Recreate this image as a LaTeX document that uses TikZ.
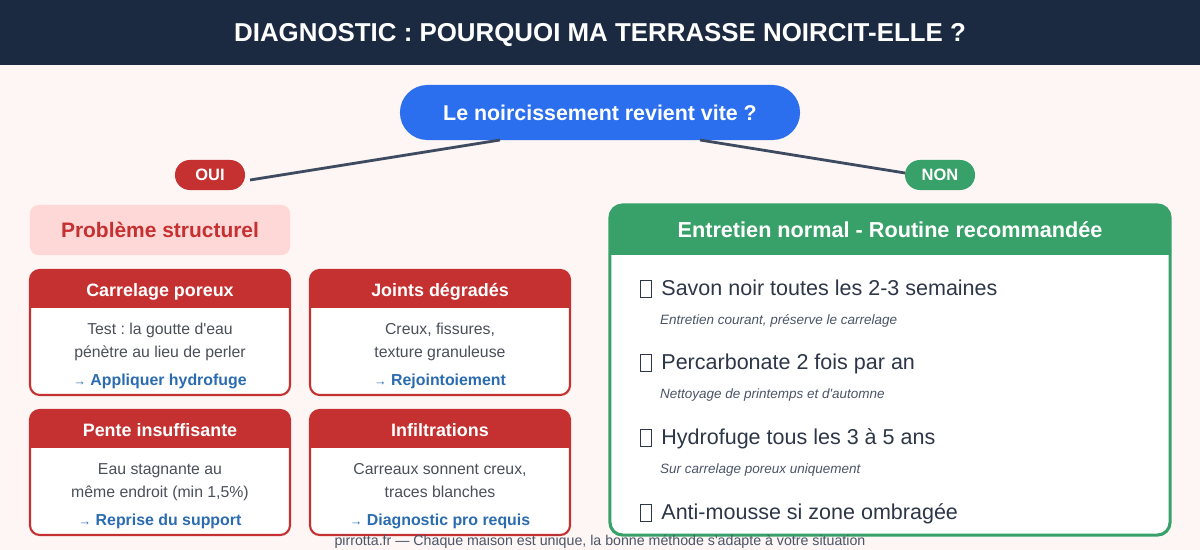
\documentclass[tikz,border=0pt]{standalone}
\usepackage{fontspec}
\setmainfont{Liberation Sans}
\usetikzlibrary{calc}
\frenchspacing

\definecolor{nuit}{HTML}{1B2A41}
\definecolor{fond}{HTML}{FDF6F5}
\definecolor{bleu}{HTML}{2B6FEE}
\definecolor{rouge}{HTML}{C53030}
\definecolor{rose}{HTML}{FED7D7}
\definecolor{vert}{HTML}{38A169}
\definecolor{trait}{HTML}{3D4A5F}
\definecolor{lien}{HTML}{2B6CB0}
\definecolor{gris}{HTML}{4A4F58}
\definecolor{sombre}{HTML}{2D3748}
\definecolor{pale}{HTML}{4A5568}

\newcommand{\fs}[1]{\fontsize{#1}{1.2\dimexpr#1pt\relax}\selectfont}
\newcommand{\tofu}{\raisebox{-0.05em}{\fboxsep=0pt\fboxrule=0.5pt\fbox{\rule{0pt}{0.74em}\hspace{0.48em}}}}
\newcommand{\apos}{\textquotesingle}

\tikzset{every node/.style={inner sep=0pt, outer sep=0pt},
  titre/.style={text=white, font=\bfseries\fs{18.4}},
  question/.style={fill=bleu, rounded corners=19.5pt, minimum width=10cm, minimum height=1.375cm, text=white, font=\bfseries\fs{15.2}},
  pastille/.style={rounded corners=10.6pt, minimum width=1.75cm, minimum height=0.75cm, text=white, font=\bfseries\fs{11.7}},
  lien/.style={trait, line width=2pt},
  bandeau/.style={fill=rose, rounded corners=6pt, minimum width=6.5cm, minimum height=1.25cm, text=rouge, font=\bfseries\fs{14.9}},
  cadre/.style={fill=white, draw=rouge, line width=1.5pt, rounded corners=7pt, minimum width=6.5cm, minimum height=3.125cm},
  cartetitre/.style={text=white, font=\bfseries\fs{12.75}},
  cartetexte/.style={text=gris, font=\fs{11.25}},
  carteaction/.style={text=lien, font=\bfseries\fs{11.3}},
  routine/.style={fill=white, draw=vert, line width=2.2pt, rounded corners=9pt, minimum width=14cm, minimum height=8.25cm},
  geste/.style={text=sombre, font=\fs{15.3}, anchor=base west},
  detail/.style={text=pale, font=\itshape\fs{9.6}, anchor=base west},
  pied/.style={text=pale, font=\fs{10.1}}
}

% carte : nom, centre, titre, ligne 1, ligne 2, action
\newcommand{\carte}[6]{
  \node[cadre] (#1) at (#2) {};
  \begin{scope}
    \clip[rounded corners=7pt] (#1.south west) rectangle (#1.north east);
    \fill[rouge] (#1.north west) rectangle ($(#1.north east)+(0,38)$);
  \end{scope}
  \node[cartetitre, anchor=base] (#1-t) at ($(#1.north)+(0,26.5)$) {#3};
  \node[cartetexte, anchor=base] (#1-a) at ($(#1.north)+(0,64.7)$) {#4};
  \node[cartetexte, anchor=base] (#1-b) at ($(#1.north)+(0,87.7)$) {#5};
  \node[carteaction, anchor=base] (#1-c) at ($(#1.north)+(0,115.7)$) {{\fs{9}→} #6};
}

\begin{document}
\begin{tikzpicture}[x=0.025cm, y=-0.025cm]
  \useasboundingbox (0,0) rectangle (1200,550);
  \fill[fond] (0,0) rectangle (1200,550);
  \fill[nuit] (0,0) rectangle (1200,65);
  \node[titre, anchor=base] (titre) at (600,42) {DIAGNOSTIC : POURQUOI MA TERRASSE NOIRCIT-ELLE ?};

  \node[question] (q) at (600,112.5) {Le noircissement revient vite ?};
  \node[pastille, fill=rouge] (oui) at (210,175) {OUI};
  \node[pastille, fill=vert] (non) at (940,175) {NON};
  \coordinate (q-g) at (500,140);
  \coordinate (q-d) at (700,140);
  \draw[lien] (q-g) -- ($(oui.east)+(5,5)$);
  \draw[lien] (q-d) -- ($(non.west)+(0,-2)$);

  % branche OUI
  \node[bandeau] (pb) at (160,230) {Problème structurel};
  \carte{c1}{160,332.5}{Carrelage poreux}{Test : la goutte d\apos eau}{pénètre au lieu de perler}{Appliquer hydrofuge}
  \carte{c2}{440,332.5}{Joints dégradés}{Creux, fissures,}{texture granuleuse}{Rejointoiement}
  \carte{c3}{160,472.5}{Pente insuffisante}{Eau stagnante au}{même endroit (min 1,5\%)}{Reprise du support}
  \carte{c4}{440,472.5}{Infiltrations}{Carreaux sonnent creux,}{traces blanches}{Diagnostic pro requis}

  % branche NON
  \node[routine] (r) at (890,370) {};
  \begin{scope}
    \clip[rounded corners=9pt] (r.south west) rectangle (r.north east);
    \fill[vert] (r.north west) rectangle ($(r.north east)+(0,50)$);
  \end{scope}
  \node[text=white, font=\bfseries\fs{15.4}] (r-t) at ($(r.north)+(0,25)$) {Entretien normal - Routine recommandée};
  \node[geste] (g1) at (640,295.7) {\tofu\hspace{0.45em}Savon noir toutes les 2-3 semaines};
  \node[detail] (d1) at (660,324.8) {Entretien courant, préserve le carrelage};
  \node[geste] (g2) at (640,369.7) {\tofu\hspace{0.45em}Percarbonate 2 fois par an};
  \node[detail] (d2) at (660,398.8) {Nettoyage de printemps et d\apos automne};
  \node[geste] (g3) at (640,444.7) {\tofu\hspace{0.45em}Hydrofuge tous les 3 à 5 ans};
  \node[detail] (d3) at (660,473.8) {Sur carrelage poreux uniquement};
  \node[geste] (g4) at (640,519.7) {\tofu\hspace{0.45em}Anti-mousse si zone ombragée};

  \node[pied, anchor=base] (pied) at (600,545) {pirrotta.fr — Chaque maison est unique, la bonne méthode s\apos adapte à votre situation};
\end{tikzpicture}
\end{document}
